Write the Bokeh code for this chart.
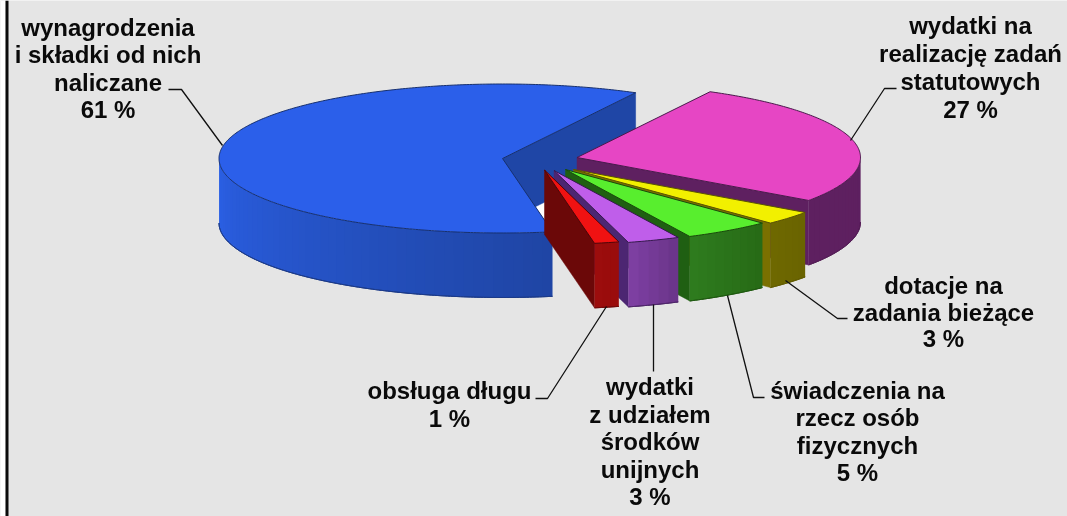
import math
from bokeh.plotting import figure
from bokeh.models import Range1d, ColumnDataSource
from bokeh.core.properties import value
from bokeh.embed import file_html
from bokeh.resources import INLINE

# ---- data (share of the total, %)
categories = ["wynagrodzenia i składki", "obsługa długu", "wydatki z udziałem środków unijnych",
              "świadczenia na rzecz osób fizycznych", "dotacje na zadania bieżące",
              "wydatki na realizację zadań statutowych"]
shares = [60.6, 1.4, 3.0, 5.0, 3.0, 27.0]

label_lines = [
    ["wynagrodzenia", "i składki od nich", "naliczane", "61 %"],
    ["obsługa długu", "1 %"],
    ["wydatki", "z udziałem", "środków", "unijnych", "3 %"],
    ["świadczenia na", "rzecz osób", "fizycznych", "5 %"],
    ["dotacje na", "zadania bieżące", "3 %"],
    ["wydatki na", "realizację zadań", "statutowych", "27 %"],
]

# ---- layout and style
W, H = 1067, 516
START = 62.0
RX, RY, DEPTH = 283.5, 74.5, 64.5
CENTERS = [(502, 158), (544, 169.5), (553.5, 170), (565, 169), (573, 169), (576.5, 157)]
TOP = ["#2b5fea", "#f01212", "#bf5eea", "#58ee2e", "#f2f000", "#e646c4"]
WALL = ["#1f46a6", "#6b0808", "#4c2672", "#1f5f12", "#7a7000", "#5e2060"]
RIM_A = ["#2b60e6", "#9c0d0d", "#7f40a4", "#2e7c1f", "#6e6800", "#5e2060"]
RIM_B = ["#1f45a4", "#990c0c", "#693488", "#276a15", "#6a6400", "#5e2060"]
EDGE = ["#17306e", "#500505", "#35184e", "#174a0c", "#5a5400", "#4a1a4c"]
DRAW_ORDER = [0, 5, 4, 3, 2, 1]
LABEL_X = [107.5, 449, 649.5, 857, 943, 970]
LABEL_Y = [27, 390, 386, 390, 285, 25]
LINE_STEP = [27.4, 27.5, 27.6, 27.3, 26.5, 28]
LEADERS = [
    [(168, 89), (181, 89), (222, 145)],
    [(535, 398), (547, 398), (606, 306)],
    [(653, 371), (653, 304)],
    [(764, 397), (753, 397), (727, 295)],
    [(847, 318), (837, 318), (785, 280)],
    [(896, 88), (884, 88), (850, 140)],
]


def pt(c, deg, dy=0.0):
    r = math.radians(deg)
    return c[0] + RX * math.cos(r), c[1] - RY * math.sin(r) + dy


def mix(a, b, f):
    pa = [int(a[i:i + 2], 16) for i in (1, 3, 5)]
    pb = [int(b[i:i + 2], 16) for i in (1, 3, 5)]
    return "#%02x%02x%02x" % tuple(round(x + (y - x) * f) for x, y in zip(pa, pb))


def arc(c, a0, a1, dy=0.0, n=None):
    n = n or max(2, int(abs(a1 - a0) * 1.5))
    return [pt(c, a0 + (a1 - a0) * i / n, dy) for i in range(n + 1)]


# slice angles from the shares
angles, run = [], START
for s in shares:
    angles.append((run, run + s * 3.6))
    run += s * 3.6

xs, ys, fills, lines, widths = [], [], [], [], []


def add(poly, fill, line, width=1.0):
    xs.append([q[0] for q in poly])
    ys.append([q[1] for q in poly])
    fills.append(fill)
    lines.append(line)
    widths.append(width)


for k in DRAW_ORDER:
    c = CENTERS[k]
    a0, a1 = angles[k]
    cb = (c[0], c[1] + DEPTH)
    if k == 0:
        # gap behind the big slice, where the sheet under the pie shows
        add([c, pt(c, a1), (c[0] + 60, c[1] + 30)], "#ffffff", "#ffffff", 0)
    wall_end = pt(c, a0)
    # cut wall facing the viewer
    add([c, wall_end, (wall_end[0], wall_end[1] + DEPTH), cb], WALL[k], WALL[k], 0.5)
    # rim: only the front half of the circle; strips overlap a little so no seams show
    front_lo, front_hi = max(a0, 180.0), min(a1, 360.0)
    if front_hi > front_lo:
        n = max(3, int((front_hi - front_lo) / 2))
        step = (front_hi - front_lo) / n
        for i in range(n):
            u0 = front_lo + step * i
            u1 = min(front_hi, u0 + step * 1.6)
            col = mix(RIM_A[k], RIM_B[k], (i + 0.5) / n)
            add(arc(c, u0, u1, 0) + arc(c, u1, u0, DEPTH), col, col, 0)
        # smooth rim outline along the bottom and the ends
        edge = arc(c, front_lo, front_hi, DEPTH)
        xs.append([q[0] for q in edge] + [q[0] for q in reversed(edge)])
        ys.append([q[1] for q in edge] + [q[1] for q in reversed(edge)])
        fills.append(EDGE[k])
        lines.append(mix(EDGE[k], RIM_B[k], 0.5))
        widths.append(1.0)
    # top face
    add([c] + arc(c, a0, a1) + [c], TOP[k], EDGE[k], 1.0)

p = figure(width=W, height=H, x_range=Range1d(0, W), y_range=Range1d(H, 0),
           output_backend="svg", toolbar_location=None, min_border=0,
           background_fill_color="#e5e5e5", border_fill_color="#e5e5e5",
           outline_line_color=None)
p.axis.visible = False
p.grid.visible = False
p.styles = {"position": "fixed", "left": "0px", "top": "0px"}

# sheet edge on the left
p.quad(left=[0], right=[5], top=[0], bottom=[H], fill_color="#ffffff", line_color=None)
p.quad(left=[5], right=[8], top=[0], bottom=[H], fill_color="#0a0a0a", line_color=None)

p.patches("xs", "ys", source=ColumnDataSource(dict(xs=xs, ys=ys, fill=fills, line=lines, w=widths)),
          fill_color="fill", line_color="line", line_width="w", line_join="round")

p.multi_line([[q[0] for q in l] for l in LEADERS], [[q[1] for q in l] for l in LEADERS],
             line_color="#111111", line_width=1.3)

tx, ty, tt = [], [], []
for k, rows in enumerate(label_lines):
    for j, row in enumerate(rows):
        tx.append(LABEL_X[k])
        ty.append(LABEL_Y[k] + j * LINE_STEP[k])
        tt.append(row)
p.text(tx, ty, text=tt, text_font=value("Liberation Sans"), text_font_style="bold",
       text_font_size="24px", text_align="center", text_baseline="middle", text_color="#0a0a0a")

open("out.html", "w").write(file_html(p, INLINE))
